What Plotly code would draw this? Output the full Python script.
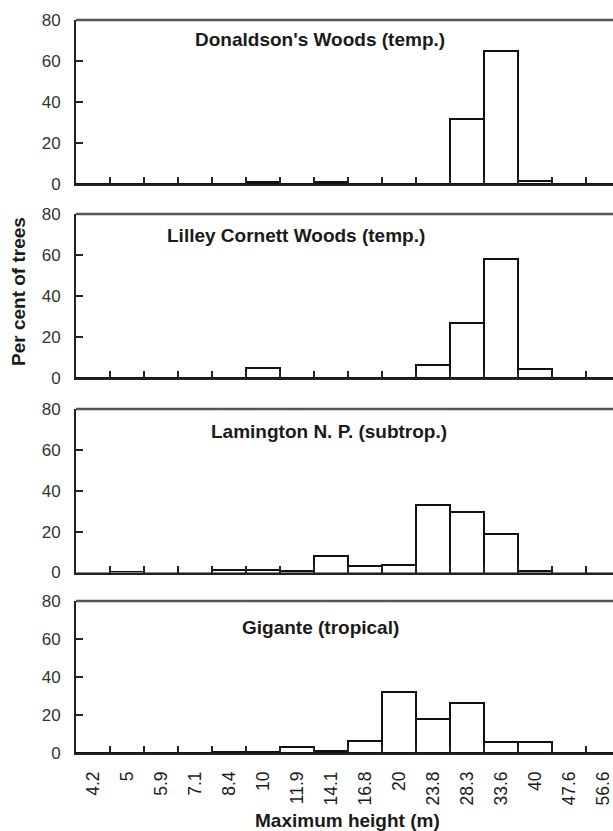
import plotly.graph_objects as go

# ---- data ----
height_classes = ["4.2", "5", "5.9", "7.1", "8.4", "10", "11.9", "14.1",
                  "16.8", "20", "23.8", "28.3", "33.6", "40", "47.6", "56.6"]

donaldson = [0, 0, 0, 0, 0, 1.0, 0, 1.2, 0, 0, 0, 31.5, 64.8, 1.5, 0, 0]
lilley    = [0, 0, 0, 0, 0, 4.7, 0, 0, 0, 0, 6.2, 26.7, 58.0, 4.2, 0, 0]
lamington = [0, 0.3, 0, 0, 1.2, 1.2, 0.5, 8.0, 3.1, 3.6, 33.2, 29.4, 19.0, 0.6, 0, 0]
gigante   = [0, 0, 0, 0, 0.4, 0.4, 3.0, 1.2, 6.5, 32.1, 18.1, 26.1, 5.6, 5.6, 0, 0]

panel_titles = ["Donaldson's Woods (temp.)", "Lilley Cornett Woods (temp.)",
                "Lamington N. P. (subtrop.)", "Gigante (tropical)"]
y_ticks = [0, 20, 40, 60, 80]
x_title = "Maximum height (m)"
y_title = "Per cent of trees"

# ---- layout geometry (pixels) ----
W, H = 613, 831
L = 76
panels_px = [(20, 184), (214, 378), (409, 572.5), (601, 753)]   # (top, bottom)
title_px = [(320, 40), (296, 235), (329, 432), (320, 627)]        # (x, y) centres
cat_w = 34.0

def py(p):
    return 1 - p / H

def px(p):
    return (p - L) / (W - L)

FONT = "Liberation Sans, Arial, sans-serif"
TXT = "#1a1a1a"
AX = "#222222"

x_pos = list(range(len(height_classes)))
boundaries = [k + 0.5 for k in x_pos[:-1]]
x_hi = -0.5 + (W - L) / cat_w

fig = go.Figure()
series = [donaldson, lilley, lamington, gigante]

shapes = []
annotations = []
layout_axes = {}
for i, vals in enumerate(series):
    n = i + 1
    xa = "x" if n == 1 else f"x{n}"
    ya = "y" if n == 1 else f"y{n}"
    fig.add_trace(go.Bar(
        x=x_pos, y=vals, xaxis=xa, yaxis=ya, width=1,
        marker=dict(color="white", line=dict(color="#111111", width=2)),
        showlegend=False, customdata=height_classes,
        hovertemplate="%{customdata} m: %{y}%<extra></extra>",
    ))
    top, bot = panels_px[i]
    layout_axes["xaxis" if n == 1 else f"xaxis{n}"] = dict(
        type="linear", range=[-0.5, x_hi], domain=[0, 1],
        anchor=ya, showline=True, linecolor=AX, linewidth=2,
        tickmode="array", tickvals=boundaries,
        ticks="inside", ticklen=7, tickwidth=2, tickcolor=AX,
        showgrid=False, zeroline=False, showticklabels=False,
        automargin=False, fixedrange=True,
    )
    layout_axes["yaxis" if n == 1 else f"yaxis{n}"] = dict(
        range=[0, 80], domain=[py(bot), py(top)], anchor=xa,
        tickmode="array", tickvals=y_ticks, showline=True, linecolor=AX, linewidth=2,
        ticks="inside", ticklen=7, tickwidth=2, tickcolor=AX,
        showgrid=False, zeroline=False, ticklabelstandoff=10,
        tickfont=dict(family=FONT, size=17, color="#333333"),
        automargin=False, fixedrange=True,
    )
    shapes.append(dict(type="line", xref="paper", yref="paper",
                       x0=0, x1=1, y0=py(top), y1=py(top),
                       line=dict(color="#555555", width=2.5)))
    tx, ty = title_px[i]
    annotations.append(dict(text=f"<b>{panel_titles[i]}</b>", xref="paper", yref="paper",
                            x=px(tx), y=py(ty), xanchor="center", yanchor="middle",
                            showarrow=False, font=dict(family=FONT, size=19, color=TXT)))

# label axis for the bottom panel (class labels centred under each bar)
layout_axes["xaxis5"] = dict(
    type="linear", range=[-0.5, x_hi], overlaying="x4", anchor="y4",
    showline=False, tickmode="array", tickvals=x_pos, ticktext=height_classes,
    ticks="", showgrid=False, zeroline=False, showticklabels=True,
    tickangle=-90, ticklabelstandoff=14, ticklabeloverflow="allow",
    tickfont=dict(family=FONT, size=17.5, color=TXT),
    automargin=False, fixedrange=True,
)
fig.add_trace(go.Scatter(x=[x_pos[0]], y=[0], xaxis="x5", yaxis="y4",
                         mode="markers", marker=dict(opacity=0),
                         showlegend=False, hoverinfo="skip"))

annotations.append(dict(text=f"<b>{x_title}</b>", xref="paper", yref="paper",
                        x=px(347), y=py(820), xanchor="center", yanchor="middle",
                        showarrow=False, borderpad=0,
                        font=dict(family=FONT, size=19, color=TXT)))
annotations.append(dict(text=f"<b>{y_title}</b>", xref="paper", yref="paper",
                        x=px(19), y=py(292), xanchor="center", yanchor="middle",
                        textangle=-90, showarrow=False, borderpad=0,
                        font=dict(family=FONT, size=19, color=TXT)))

fig.update_layout(
    template="none",
    width=W, height=H, autosize=False,
    margin=dict(l=L, r=0, t=0, b=0, pad=0, autoexpand=False),
    paper_bgcolor="white", plot_bgcolor="white",
    bargap=0, shapes=shapes, annotations=annotations,
    **layout_axes,
)

fig.write_html("out.html")
